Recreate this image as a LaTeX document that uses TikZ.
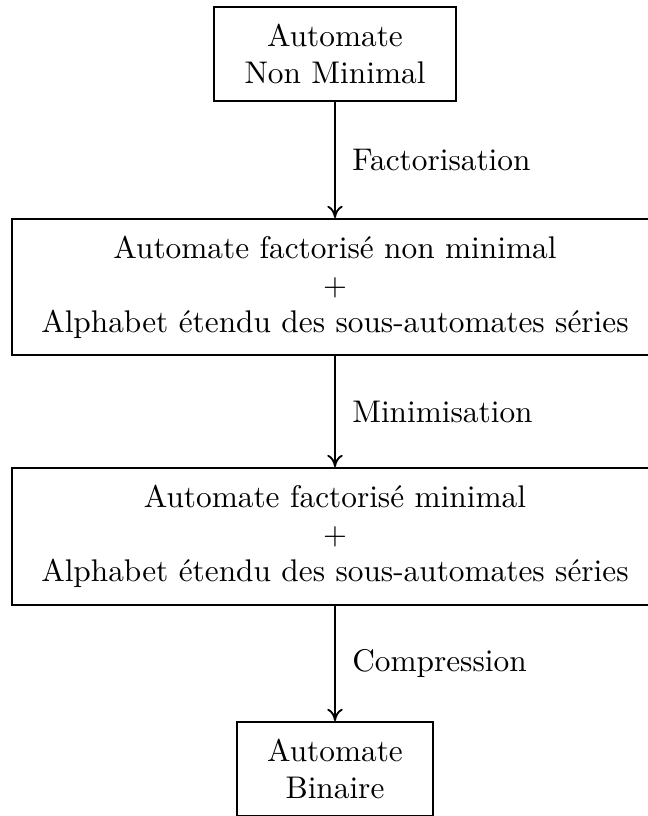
\documentclass[tikz,border=0pt]{standalone}
\usetikzlibrary{arrows.meta}
\begin{document}
\begin{tikzpicture}[x=0.3257pt,y=-0.3257pt,
  every node/.style={font=\fontsize{10.2pt}{12pt}\selectfont},
  box/.style={draw,line width=0.6pt,rectangle,align=center,inner sep=0pt},
  conn/.style={line width=0.6pt,-{To[length=4pt,width=5pt]}},
  lbl/.style={right,xshift=2pt}]
\useasboundingbox (0,0) rectangle (648,816);
\node[box,minimum width=78.82pt,minimum height=30.62pt] (a) at (335,54) {Automate\\Non Minimal};
\node[box,minimum width=210.4pt,minimum height=44.3pt] (b) at (335,287) {Automate factoris\'e non minimal\\$+$\\Alphabet \'etendu des sous-automates s\'eries};
\node[box,minimum width=210.4pt,minimum height=44.6pt] (c) at (335,536.5) {Automate factoris\'e minimal\\$+$\\Alphabet \'etendu des sous-automates s\'eries};
\node[box,minimum width=63.84pt,minimum height=30.62pt] (d) at (335,769) {Automate\\Binaire};
\draw[conn] (a) -- node[lbl] {Factorisation} (b);
\draw[conn] (b) -- node[lbl] {Minimisation} (c);
\draw[conn] (c) -- node[lbl] {Compression} (d);
\end{tikzpicture}
\end{document}
